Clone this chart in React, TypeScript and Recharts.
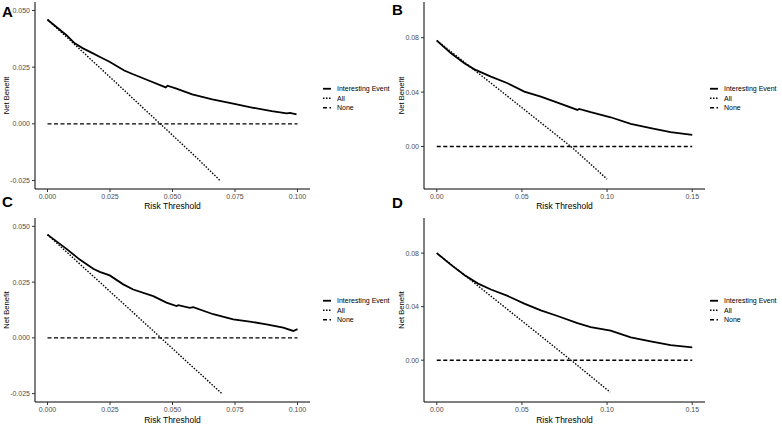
import { LineChart, Line, XAxis, YAxis, Legend } from 'recharts';

const FONT = '"Liberation Sans", Arial, Helvetica, sans-serif';

// Panel A
const aEventX = [0, 0.0075, 0.0109, 0.0142, 0.0182, 0.0208, 0.0248, 0.0307, 0.034, 0.0407, 0.0473, 0.048, 0.0513, 0.0579, 0.0659, 0.0738, 0.0818, 0.0897, 0.0957, 0.097, 0.0996];
const aEventY = [0.0459, 0.0392, 0.0355, 0.0333, 0.0311, 0.0296, 0.0274, 0.0235, 0.022, 0.019, 0.0161, 0.0168, 0.0156, 0.013, 0.0108, 0.009, 0.0072, 0.0056, 0.0046, 0.0048, 0.0042];
const aAllX = [0, 0.01, 0.02, 0.03, 0.04, 0.05, 0.06, 0.069];
const aAllY = [0.046, 0.0359, 0.0257, 0.0155, 0.0052, -0.005, -0.0153, -0.025];

// Panel B
const bEventX = [0, 0.0084, 0.0162, 0.0221, 0.0318, 0.0416, 0.0514, 0.0611, 0.0709, 0.0826, 0.0836, 0.0904, 0.1021, 0.1139, 0.1256, 0.1373, 0.15];
const bEventY = [0.0778, 0.0685, 0.0612, 0.0567, 0.0514, 0.0465, 0.0404, 0.0367, 0.0323, 0.0269, 0.0276, 0.0252, 0.0215, 0.0166, 0.0135, 0.0105, 0.0086];
const bAllX = [0, 0.02, 0.04, 0.06, 0.08, 0.1];
const bAllY = [0.078, 0.0583, 0.0385, 0.0186, -0.0013, -0.024];

// Panel C
const cEventX = [0, 0.0076, 0.0129, 0.0183, 0.0209, 0.0249, 0.0303, 0.0343, 0.0423, 0.0476, 0.0516, 0.0523, 0.0569, 0.0583, 0.0663, 0.0743, 0.0809, 0.0876, 0.0943, 0.0983, 0.1];
const cEventY = [0.0463, 0.0399, 0.0351, 0.031, 0.0296, 0.028, 0.024, 0.0217, 0.0187, 0.0158, 0.0143, 0.0147, 0.0135, 0.0138, 0.0106, 0.0083, 0.0073, 0.0061, 0.0046, 0.0031, 0.0039];
const cAllX = [0, 0.01, 0.02, 0.03, 0.04, 0.05, 0.06, 0.0696];
const cAllY = [0.0463, 0.0361, 0.0259, 0.0157, 0.0055, -0.0048, -0.015, -0.0248];

// Panel D
const dEventX = [0, 0.0084, 0.0162, 0.024, 0.0318, 0.0416, 0.0514, 0.0611, 0.0709, 0.0826, 0.0904, 0.1021, 0.1139, 0.1256, 0.1373, 0.15];
const dEventY = [0.08, 0.0712, 0.0637, 0.0574, 0.0528, 0.048, 0.0423, 0.0372, 0.033, 0.0277, 0.0247, 0.0221, 0.0171, 0.0141, 0.0113, 0.0096];
const dAllX = [0, 0.02, 0.04, 0.06, 0.08, 0.1018];
const dAllY = [0.08, 0.0598, 0.0395, 0.0192, -0.0012, -0.0239];

const noneSmallX = [0, 0.1];
const noneWideX = [0, 0.15];
const noneY = [0, 0];

const smallXTicks = [0, 0.025, 0.05, 0.075, 0.1];
const wideXTicks = [0, 0.05, 0.1, 0.15];
const smallYTicks = [-0.025, 0, 0.025, 0.05];
const wideYTicks = [0, 0.04, 0.08];

const seriesNames = ['Interesting Event', 'All', 'None'];
const dashes = ['', '1.5 1.5', '4 2.5'];
const widths = [1.8, 1.4, 1.4];

const zip = (xs: number[], ys: number[]) => xs.map((x, i) => ({ x, y: ys[i] }));

function LegendRows() {
  return (
    <svg width={70} height={29} style={{ display: 'block' }}>
      {seriesNames.map((name, i) => (
        <g key={name} transform={`translate(0, ${4.75 + i * 9.5})`}>
          <line x1={0} x2={8} y1={0} y2={0} stroke="#000" strokeWidth={widths[i]} strokeDasharray={dashes[i]} />
          <text x={14} y={2.5} fontFamily={FONT} fontSize={7} fill="#000">
            {name}
          </text>
        </g>
      ))}
    </svg>
  );
}

interface PanelProps {
  left: number;
  top: number;
  marginTop: number;
  xAxisHeight: number;
  yAxisWidth: number;
  plotWidth: number;
  yLabelOffset: number;
  legendLeft: number;
  event: { x: number; y: number }[];
  all: { x: number; y: number }[];
  none: { x: number; y: number }[];
  xDomain: [number, number];
  xTicks: number[];
  xDigits: number;
  yDomain: [number, number];
  yTicks: number[];
  yDigits: number;
}

function Panel(p: PanelProps) {
  const tick = { fill: '#4d4d4d', fontSize: 7, fontFamily: FONT };
  return (
    <div style={{ position: 'absolute', left: p.left, top: p.top }}>
      <LineChart
        width={391}
        height={214}
        margin={{ top: p.marginTop, right: 391 - p.yAxisWidth - p.plotWidth, bottom: 0, left: 0 }}
      >
        <XAxis
          type="number"
          dataKey="x"
          domain={p.xDomain}
          ticks={p.xTicks}
          tickFormatter={(v: number) => v.toFixed(p.xDigits)}
          allowDataOverflow
          height={p.xAxisHeight}
          tick={tick}
          tickSize={3}
          tickMargin={2}
          axisLine={{ stroke: '#000', strokeWidth: 1 }}
          tickLine={{ stroke: '#333' }}
          label={{
            value: 'Risk Threshold',
            position: 'insideBottom',
            offset: 5,
            fontSize: 8.5,
            fontFamily: FONT,
            style: { fill: '#000' },
          }}
        />
        <YAxis
          type="number"
          dataKey="y"
          domain={p.yDomain}
          ticks={p.yTicks}
          tickFormatter={(v: number) => v.toFixed(p.yDigits)}
          allowDataOverflow
          width={p.yAxisWidth}
          tick={tick}
          tickSize={3}
          tickMargin={2}
          axisLine={{ stroke: '#000', strokeWidth: 1 }}
          tickLine={{ stroke: '#333' }}
          label={{
            value: 'Net Benefit',
            angle: -90,
            position: 'insideLeft',
            offset: p.yLabelOffset,
            fontSize: 7.6,
            fontFamily: FONT,
            style: { textAnchor: 'middle', fill: '#000' },
          }}
        />
        <Legend
          layout="vertical"
          align="center"
          verticalAlign="middle"
          content={() => <LegendRows />}
          wrapperStyle={{ left: p.legendLeft, top: 84.25 - (p.marginTop - 2), width: 70 }}
        />
        <Line data={p.none} dataKey="y" name="None" stroke="#000" strokeWidth={1.4} strokeDasharray="4 2.5" dot={false} isAnimationActive={false} legendType="none" />
        <Line data={p.all} dataKey="y" name="All" stroke="#000" strokeWidth={1.4} strokeDasharray="1.5 1.5" dot={false} isAnimationActive={false} legendType="none" />
        <Line data={p.event} dataKey="y" name="Interesting Event" stroke="#000" strokeWidth={1.8} dot={false} isAnimationActive={false} legendType="none" />
      </LineChart>
    </div>
  );
}

const letterStyle = (left: number, top: number): React.CSSProperties => ({
  position: 'absolute',
  left,
  top,
  fontFamily: FONT,
  fontWeight: 'bold',
  fontSize: 15,
  lineHeight: '15px',
  color: '#000',
});

export default function App() {
  const smallX: [number, number] = [-0.005, 0.105];
  const wideX: [number, number] = [-0.0075, 0.1575];
  const smallY: [number, number] = [-0.02875, 0.05375];
  const wideY: [number, number] = [-0.03125, 0.10625];
  return (
    <div style={{ position: 'absolute', left: 0, top: 0, width: 782, height: 428, background: '#fff', overflow: 'hidden' }}>
      <Panel left={0} top={0} marginTop={2} xAxisHeight={25} yAxisWidth={35} plotWidth={275} yLabelOffset={6} legendLeft={323}
        event={zip(aEventX, aEventY)} all={zip(aAllX, aAllY)} none={zip(noneSmallX, noneY)}
        xDomain={smallX} xTicks={smallXTicks} xDigits={3} yDomain={smallY} yTicks={smallYTicks} yDigits={3} />
      <Panel left={391} top={0} marginTop={2} xAxisHeight={25} yAxisWidth={33} plotWidth={281} yLabelOffset={10} legendLeft={319}
        event={zip(bEventX, bEventY)} all={zip(bAllX, bAllY)} none={zip(noneWideX, noneY)}
        xDomain={wideX} xTicks={wideXTicks} xDigits={2} yDomain={wideY} yTicks={wideYTicks} yDigits={2} />
      <Panel left={0} top={214} marginTop={4} xAxisHeight={26} yAxisWidth={35} plotWidth={275} yLabelOffset={6} legendLeft={323}
        event={zip(cEventX, cEventY)} all={zip(cAllX, cAllY)} none={zip(noneSmallX, noneY)}
        xDomain={smallX} xTicks={smallXTicks} xDigits={3} yDomain={smallY} yTicks={smallYTicks} yDigits={3} />
      <Panel left={391} top={214} marginTop={4} xAxisHeight={26} yAxisWidth={33} plotWidth={281} yLabelOffset={10} legendLeft={319}
        event={zip(dEventX, dEventY)} all={zip(dAllX, dAllY)} none={zip(noneWideX, noneY)}
        xDomain={wideX} xTicks={wideXTicks} xDigits={2} yDomain={wideY} yTicks={wideYTicks} yDigits={2} />
      <div style={letterStyle(2, 4)}>A</div>
      <div style={letterStyle(392, 2)}>B</div>
      <div style={letterStyle(2, 194)}>C</div>
      <div style={letterStyle(392, 195)}>D</div>
    </div>
  );
}
